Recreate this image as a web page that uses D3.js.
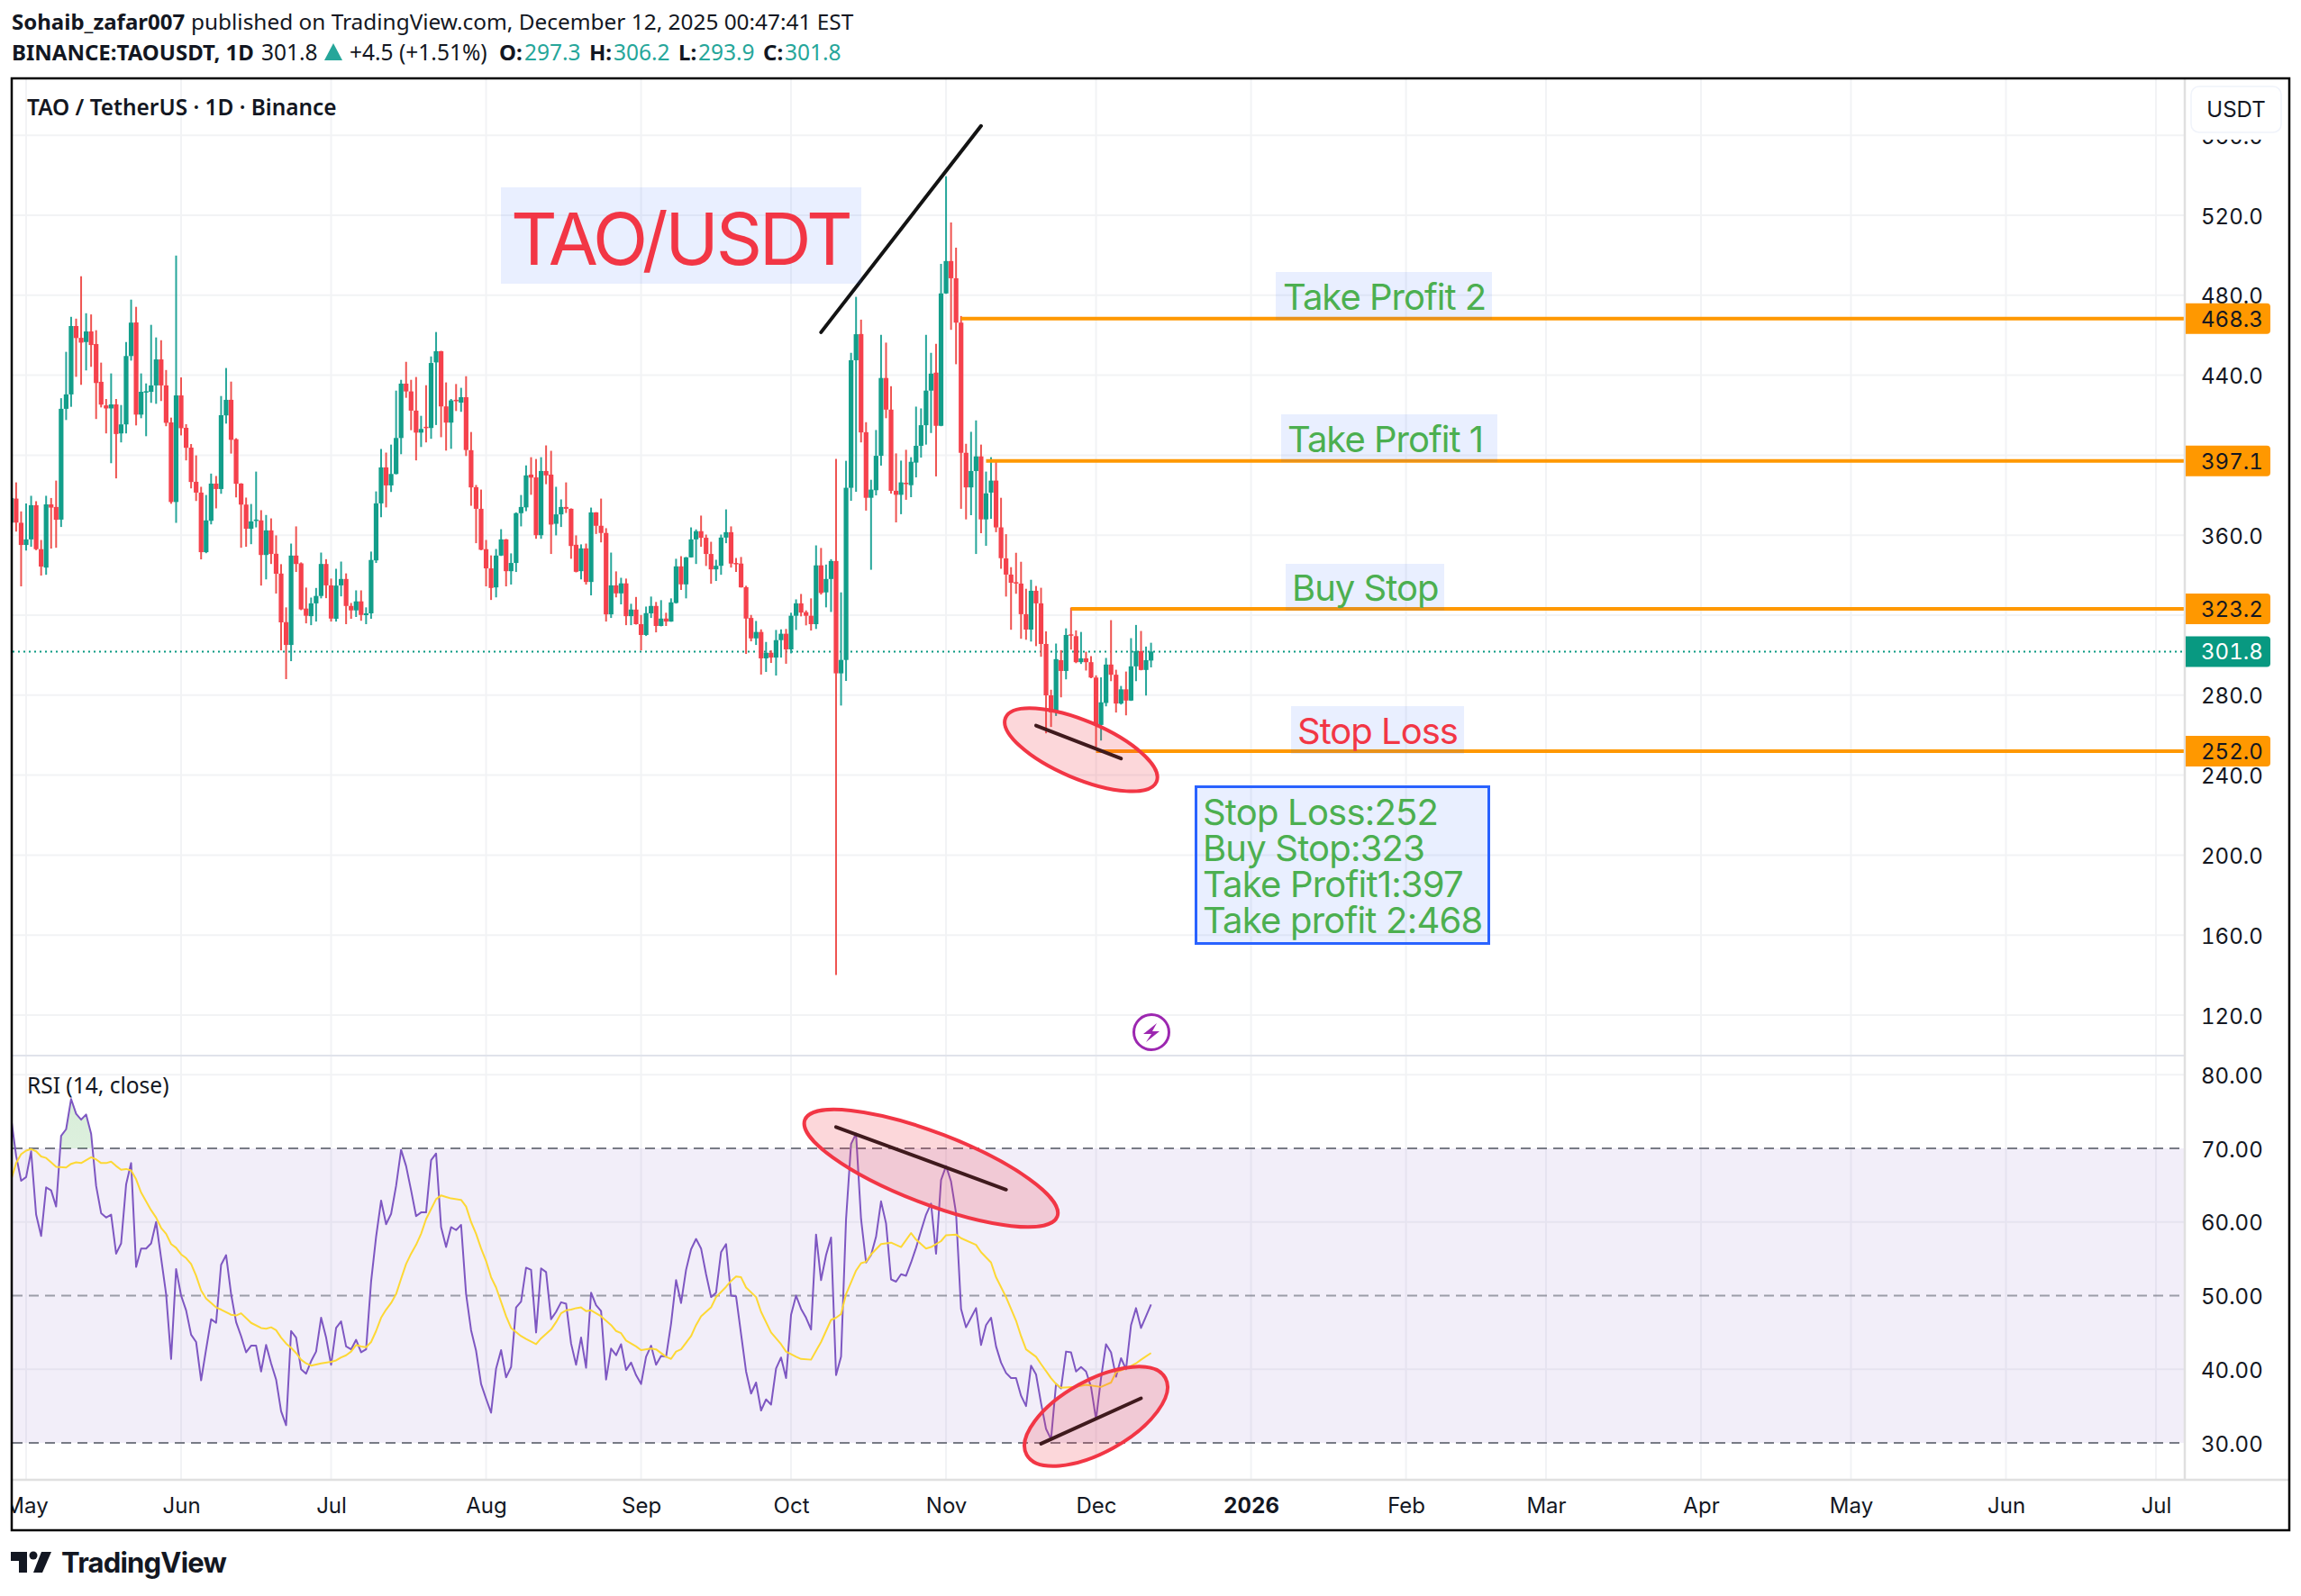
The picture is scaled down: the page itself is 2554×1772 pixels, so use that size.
<!DOCTYPE html>
<html>
<head>
<meta charset="utf-8">
<style>
  html, body { margin: 0; padding: 0; background: #fff; }
  text { font-family: Inter, sans-serif; }
  .head text, .head { font-family: "Noto Sans", sans-serif; font-size: 24.5px; fill: #131722; }
  .axis text { font-family: Inter, sans-serif; font-size: 24px; fill: #131722; font-variant-numeric: tabular-nums; }
  .axis .domain { display: none; }
  .tag text { font-variant-numeric: tabular-nums; }
</style>
<script src="https://cdn.jsdelivr.net/npm/d3@7"></script>
</head>
<body>
<svg id="chart" width="2554" height="1772"></svg>
<script>
// daily candles, first one is 2025-04-28
var startDay = '2025-04-28';

var opens = [
  366.3,378.3,366.2,
  355.1,357.9,375.0,353.0,343.8,375.4,374.1,367.8,423.2,430.4,464.6,458.7,456.6,461.9,455.6,436.7,424.9,423.4,425.4,410.9,415.4,449.6,466.4,420.3,431.5,431.7,434.9,447.9,434.9,416.4,376.6,
  429.9,413.7,403.8,386.7,381.3,351.5,367.2,385.8,383.1,419.9,427.7,408.0,385.8,375.3,363.2,367.2,367.4,350.1,362.4,350.7,340.8,316.5,305.1,349.8,345.9,323.3,319.5,325.9,329.6,345.6,
  334.9,318.2,334.9,338.1,324.6,322.4,326.9,320.0,320.9,347.4,375.9,393.9,384.9,390.6,408.6,435.8,431.9,422.3,411.3,414.2,413.6,446.4,452.0,424.4,416.3,427.7,426.3,429.0,402.5,384.0,373.2,
  353.0,343.4,333.9,349.8,357.9,342.0,346.1,371.0,373.9,390.3,388.9,360.0,392.1,390.3,365.7,370.4,374.1,373.2,355.2,342.0,353.4,336.6,371.4,364.7,361.1,320.4,334.9,330.9,335.9,319.5,322.8,
  315.5,310.1,320.9,324.6,314.6,318.3,316.8,326.1,344.4,335.4,348.9,357.9,362.0,358.7,350.6,342.9,344.7,358.8,361.5,346.1,345.8,334.0,318.6,308.4,311.6,298.4,301.2,298.8,307.5,310.7,
  302.9,319.7,325.9,321.5,319.7,315.5,344.9,331.4,338.1,347.1,290.9,297.6,383.7,447.5,460.6,411.5,378.7,382.5,399.7,438.6,422.8,382.2,380.2,386.2,385.0,396.3,404.7,415.0,432.3,441.3,414.7,
  480.9,497.1,488.5,466.3,401.2,383.9,392.1,399.4,367.9,381.3,387.3,363.9,348.4,340.3,336.5,335.8,320.5,312.8,332.2,325.9,305.6,279.9,271.4,297.5,292.1,310.4,309.5,296.5,298.4,296.5,
  288.8,265.1,276.1,295.3,290.2,275.8,282.9,277.3,294.4,302.0,292.6,297.3
];
var highs = [
  381.6,386.4,371.9,
  375.9,379.7,377.0,357.6,379.7,378.6,387.3,428.5,451.7,469.2,468.3,489.5,471.0,470.4,462.5,446.3,428.1,440.9,428.1,425.1,456.6,477.8,474.2,440.9,435.9,465.2,458.9,457.5,442.6,418.8,499.8,
  438.9,415.5,405.6,399.9,384.2,380.1,390.8,389.6,429.6,443.6,436.8,408.5,386.0,378.8,375.6,391.8,372.5,370.1,368.4,359.9,345.5,323.9,355.8,364.4,346.4,333.8,328.8,333.6,351.3,348.0,
  338.3,343.2,346.8,340.9,326.1,332.4,332.4,323.9,351.8,381.9,403.1,401.3,405.3,432.3,437.7,446.7,437.7,439.1,419.7,435.0,449.4,461.6,452.2,436.4,428.1,435.6,433.7,439.5,411.6,385.1,382.8,
  357.6,349.9,353.1,363.0,358.1,350.9,371.4,380.1,394.9,399.0,398.1,399.0,404.9,402.2,384.2,377.9,386.4,373.4,359.9,355.4,355.8,373.8,371.5,378.3,363.5,351.3,341.9,338.7,338.3,325.7,329.1,
  320.1,324.3,329.3,326.6,327.5,321.2,328.4,348.2,349.5,349.1,363.9,362.9,369.8,360.3,356.7,347.7,360.3,372.9,364.4,348.6,349.1,334.7,320.1,317.1,312.9,306.6,302.4,312.6,312.9,313.1,
  321.2,327.9,330.6,322.4,328.4,354.9,353.6,345.3,348.0,398.1,331.4,397.2,451.2,479.2,467.8,416.5,387.7,412.6,460.2,456.3,434.5,400.9,397.3,402.7,399.0,424.3,423.4,460.2,451.2,455.7,495.7,
  539.5,516.4,503.8,469.6,405.7,411.7,417.4,405.3,391.8,399.0,397.8,378.7,360.5,344.0,351.2,346.7,333.2,337.7,334.6,333.7,311.9,282.7,305.8,302.5,313.4,323.8,312.4,311.6,301.7,299.5,
  289.9,288.9,298.6,317.5,292.7,284.6,291.8,308.5,315.1,312.1,304.3,306.2
];
var lows = [
  360.6,361.8,334.4,
  352.3,354.2,352.5,339.8,340.2,353.3,353.7,364.1,417.6,424.2,439.2,435.2,442.4,444.2,418.1,423.9,410.9,396.0,388.4,406.4,410.9,447.3,414.9,418.5,409.5,426.2,425.7,427.1,414.5,375.7,366.2,
  409.9,397.4,383.4,377.1,347.9,351.0,365.4,373.4,380.7,415.8,400.8,378.9,353.7,354.2,355.5,363.9,334.8,337.9,345.6,330.8,302.4,288.0,297.0,341.6,322.5,315.9,315.0,316.8,328.4,328.5,
  316.8,316.8,329.4,315.5,318.2,319.1,317.2,315.5,318.2,346.1,369.0,373.9,381.6,390.4,400.5,428.7,412.5,397.4,404.1,406.4,408.2,415.1,409.0,402.3,403.2,422.1,421.7,399.6,374.7,356.0,352.5,
  334.4,327.6,328.9,349.6,334.4,335.3,341.6,364.4,372.0,380.2,358.2,358.2,385.5,350.6,359.9,364.1,371.1,348.2,341.4,337.9,335.3,329.9,360.6,356.4,316.8,318.6,328.9,325.4,315.0,315.0,315.3,
  302.4,309.6,318.6,311.4,314.4,314.6,316.7,325.8,332.6,328.4,348.8,345.6,354.2,344.6,335.7,337.1,340.2,356.0,343.8,341.6,333.8,300.6,306.9,305.1,290.3,291.6,296.1,289.8,298.8,295.7,
  300.9,312.6,319.4,314.9,312.3,313.1,330.3,323.9,321.6,140.0,274.8,287.1,377.2,381.7,406.4,372.3,342.7,379.9,394.8,418.5,380.8,366.4,370.5,377.7,379.0,388.9,398.8,405.3,411.1,389.4,414.5,
  480.7,462.7,445.5,373.2,367.9,370.0,350.6,361.0,354.7,368.2,361.5,343.2,329.3,312.7,330.7,308.2,307.7,306.8,304.5,299.2,260.9,264.1,269.6,278.9,287.9,302.8,296.0,295.6,292.3,288.5,
  254.0,257.3,274.4,287.0,271.3,275.3,269.9,277.1,287.0,292.4,279.8,293.9
];
var closes = [
  378.6,366.3,355.1,
  357.9,375.0,353.0,344.3,375.4,373.8,367.7,423.2,430.4,464.6,458.6,456.3,461.9,455.1,436.1,425.3,423.4,425.4,410.6,415.4,449.6,466.3,420.3,431.7,432.0,434.9,447.9,434.9,416.2,376.6,429.9,
  413.5,403.7,386.6,381.3,351.5,367.4,385.8,383.1,420.0,427.7,407.7,385.7,375.3,363.2,366.9,367.8,350.1,362.4,350.6,340.7,316.4,305.1,349.8,345.6,322.9,319.7,325.9,329.6,345.6,334.9,
  318.3,334.8,338.1,324.6,322.4,326.9,320.1,320.9,347.6,375.9,393.9,384.9,390.6,408.6,435.8,431.9,422.3,411.3,413.1,413.6,446.1,452.0,424.4,416.3,427.4,427.0,429.0,402.6,383.9,373.2,352.7,
  343.4,333.6,349.8,357.9,342.0,346.1,371.0,374.1,389.9,388.8,360.0,392.1,389.9,365.3,370.4,374.1,373.2,354.6,341.7,353.4,336.6,371.4,364.7,361.1,320.4,334.9,330.9,335.9,319.5,322.8,315.5,
  310.1,321.0,324.6,314.6,318.3,316.8,326.4,344.4,335.4,348.9,357.9,362.0,358.7,350.6,342.9,344.7,358.8,361.5,345.8,345.6,333.9,318.3,308.4,311.6,298.4,301.2,298.8,307.5,310.7,302.9,
  319.7,325.9,321.3,319.7,315.5,344.9,331.1,338.1,347.1,290.9,297.6,383.7,447.5,460.5,411.4,378.7,382.8,399.7,438.6,422.8,382.2,380.2,386.4,385.9,396.7,404.7,415.0,432.3,440.8,414.7,480.9,
  497.1,488.5,466.3,401.2,383.9,392.1,399.4,367.9,380.9,387.3,363.9,348.5,340.3,336.2,336.2,320.5,312.8,332.2,325.9,305.6,279.9,271.4,298.0,292.1,310.1,310.1,296.5,298.4,296.5,288.8,
  264.8,276.4,295.3,290.2,275.8,282.9,277.3,294.4,302.0,292.6,297.5,301.8
];

// RSI (14), one value per candle
var rsiValues = [
  74.1,69.0,65.6,66.1,69.6,61.0,58.1,64.7,64.3,62.1,
  71.7,72.6,76.7,74.7,73.9,74.6,72.0,64.9,61.2,60.6,
  61.0,55.7,57.1,65.1,68.0,53.9,56.4,56.4,57.1,60.0,
  55.1,50.2,41.4,53.6,50.0,48.0,44.7,43.7,38.5,42.7,
  46.8,46.3,54.2,55.5,50.2,46.4,44.5,42.3,43.2,43.2,
  39.7,43.3,40.8,38.6,34.3,32.4,45.2,44.3,40.0,39.4,
  41.1,42.4,47.0,44.3,40.6,45.6,46.5,43.1,42.7,44.0,
  42.3,42.7,51.9,58.0,62.9,59.7,61.1,64.9,69.8,67.6,
  64.3,60.8,61.3,61.3,68.4,69.3,59.3,56.6,59.3,58.9,
  59.6,50.2,45.3,42.5,38.0,36.0,34.1,40.1,42.6,38.9,
  40.3,48.4,49.2,53.8,53.5,45.0,53.7,53.2,46.8,47.8,
  49.1,48.9,43.5,40.6,44.3,40.2,50.4,48.7,47.9,38.6,
  42.8,41.9,43.4,39.9,40.9,39.2,38.0,41.7,43.2,40.6,
  41.8,41.7,46.2,52.1,49.0,53.5,56.3,57.7,56.4,52.9,
  49.8,50.4,55.9,57.0,50.0,49.9,44.8,39.7,36.7,38.2,
  34.4,35.9,35.2,40.1,41.6,38.8,47.4,50.0,48.2,47.0,
  45.4,58.3,52.1,55.5,57.9,39.2,41.7,60.4,70.6,72.0,
  60.4,54.5,55.5,58.0,62.8,59.8,52.2,51.9,52.9,52.7,
  54.5,56.5,58.8,61.0,62.5,55.7,65.7,67.6,65.5,61.2,
  48.2,45.7,47.0,48.3,43.3,46.0,47.0,43.1,40.9,39.5,
  38.8,38.8,36.4,35.0,40.5,39.3,35.4,31.9,30.5,38.0,
  37.4,42.4,42.3,39.7,40.3,39.7,37.6,33.2,38.8,43.4,
  42.3,39.0,41.5,40.0,46.0,48.3,45.6,47.2,48.8
];

// yellow RSI average, read at these candle numbers
var maCandles = [0,1,2,3,4,5,6,7,8,9,11,12,13,14,15,16,17,18,19,20,21,22,23,24,25,26,28,29,30,31,32,33,34,35,36,37,38,39,41,42,44,45,46,48,50,51,52,53,54,55,56,57,58,59,60,62,64,65,66,67,68,69,70,71,72,73,74,75,76,77,78,79,80,81,82,83,85,86,87,88,90,91,92,93,94,95,96,97,99,100,102,103,105,106,108,109,110,111,112,113,114,115,116,118,120,121,122,123,125,126,128,129,131,132,133,134,136,137,138,140,141,143,144,145,146,147,149,150,152,154,155,157,158,160,161,162,164,165,166,167,169,170,171,172,174,176,178,180,181,183,184,186,187,189,190,193,194,196,197,199,201,202,203,205,206,208,209,210,213,215,218,220,221,223,225,226,228];
var maValues = [65.7,68.0,69.2,69.7,69.9,69.6,68.9,68.7,68.1,67.5,67.4,67.9,68.1,68.0,68.4,68.8,68.5,68.0,68.0,68.2,67.6,67.1,67.2,67.0,65.8,64.0,61.6,60.6,59.2,58.4,57.0,56.5,55.6,55.1,54.3,52.7,50.7,49.6,48.4,48.1,47.4,47.3,47.6,46.3,45.6,45.5,45.7,45.3,44.3,43.5,42.9,42.2,41.3,40.8,40.5,40.8,41.0,41.2,41.6,41.9,42.4,43.3,43.1,43.0,43.7,45.2,47.0,48.1,49.0,50.2,52.3,54.3,55.7,56.9,58.4,60.4,63.1,63.6,63.4,63.2,63.0,62.1,60.0,58.4,56.4,54.7,52.5,51.1,47.2,45.6,44.5,44.1,43.4,44.2,45.4,46.4,47.6,48.0,48.1,48.3,48.4,47.9,48.0,47.2,46.0,45.2,44.9,43.9,43.1,42.6,42.8,42.7,41.7,41.4,42.4,42.7,44.5,46.0,47.2,48.4,49.8,51.2,52.0,52.6,52.5,51.1,49.8,47.8,45.0,43.4,42.4,41.7,41.4,41.3,42.5,43.7,46.7,47.0,47.5,50.2,53.4,54.4,54.6,55.6,57.0,57.2,56.6,58.5,57.6,56.4,56.6,57.4,58.2,58.3,57.8,56.9,55.9,54.5,52.5,49.8,46.6,44.5,42.7,41.7,40.7,38.8,38.0,37.5,37.6,37.9,37.6,38.2,39.6,40.1,40.8,41.3,42.2];

var priceTicks = [560,520,480,440,400,360,320,280,240,200,160,120];
// 400 and 320 sit behind the price tags, so they have no label
var priceLabels = [560,520,480,440,360,280,240,200,160,120];
var rsiTicks = [80,70,60,50,40,30];
var rsiGrid = [80,60,40];
var rsiLevels = [70,50,30];
var monthDays = ['2025-05-01','2025-06-01','2025-07-01','2025-08-01','2025-09-01','2025-10-01','2025-11-01','2025-12-01','2026-01-01','2026-02-01','2026-03-01','2026-04-01','2026-05-01','2026-06-01','2026-07-01'];
var monthLabels = ['May','Jun','Jul','Aug','Sep','Oct','Nov','Dec','2026','Feb','Mar','Apr','May','Jun','Jul'];

var lastPrice = 301.8;
var levelPrices = [468.3,397.1,323.2,252.0];
var levelStarts = ['2025-11-04','2025-11-09','2025-11-26','2025-12-01'];

var left = 14, right = 2425, frameRight = 2541, frameTop = 87, frameBottom = 1699;
var paneLine = 1172, timeLine = 1643;

var parseDay = d3.utcParse('%Y-%m-%d');
var x = d3.scaleUtc().domain([parseDay('2025-05-01'), parseDay('2026-07-01')]).range([29, 2393]);
var yPrice = d3.scaleLinear().domain([120, 520]).range([1127, 239]);
var yRsi = d3.scaleLinear().domain([30, 70]).range([1602, 1275]);

function candleDay(i) {
  return d3.utcDay.offset(parseDay(startDay), i);
}

var svg = d3.select('#chart');
var defs = svg.append('defs');

defs.append('clipPath').attr('id', 'plotClip').append('rect')
  .attr('x', left).attr('y', frameTop).attr('width', right - left).attr('height', timeLine - frameTop);
defs.append('clipPath').attr('id', 'frameClip').append('rect')
  .attr('x', left).attr('y', frameTop).attr('width', frameRight - left).attr('height', frameBottom - frameTop);
defs.append('clipPath').attr('id', 'overClip').append('rect')
  .attr('x', left).attr('y', timeLine - 560).attr('width', right - left).attr('height', yRsi(70) - (timeLine - 560));

var overGrad = defs.append('linearGradient').attr('id', 'overFill').attr('x1', 0).attr('y1', 0).attr('x2', 0).attr('y2', 1);
overGrad.append('stop').attr('offset', '0%').attr('stop-color', '#4caf50').attr('stop-opacity', 0.22);
overGrad.append('stop').attr('offset', '100%').attr('stop-color', '#4caf50').attr('stop-opacity', 0.02);

svg.append('rect').attr('width', 2554).attr('height', 1772).attr('fill', '#fff');

// grid
var grid = svg.append('g').attr('stroke', '#f2f3f5').attr('stroke-width', 2).attr('clip-path', 'url(#plotClip)');
grid.selectAll('.v').data(monthDays).enter().append('line')
  .attr('x1', function(d) { return x(parseDay(d)); })
  .attr('x2', function(d) { return x(parseDay(d)); })
  .attr('y1', frameTop).attr('y2', timeLine);
grid.selectAll('.h').data(priceTicks).enter().append('line')
  .attr('x1', left).attr('x2', right)
  .attr('y1', function(d) { return yPrice(d); })
  .attr('y2', function(d) { return yPrice(d); });
grid.selectAll('.r').data(rsiGrid).enter().append('line')
  .attr('x1', left).attr('x2', right)
  .attr('y1', function(d) { return yRsi(d); })
  .attr('y2', function(d) { return yRsi(d); });

// rsi pane background and levels
svg.append('rect').attr('x', left).attr('width', right - left)
  .attr('y', yRsi(70)).attr('height', yRsi(30) - yRsi(70))
  .attr('fill', '#7e57c2').attr('opacity', 0.1);
svg.selectAll('.level').data(rsiLevels).enter().append('line')
  .attr('x1', left).attr('x2', right)
  .attr('y1', function(d) { return yRsi(d); })
  .attr('y2', function(d) { return yRsi(d); })
  .attr('stroke', '#787b86')
  .attr('stroke-opacity', function(d) { return d === 50 ? 0.7 : 1; })
  .attr('stroke-width', 2)
  .attr('stroke-dasharray', '11,7');

// last price dots
svg.append('line').attr('x1', left).attr('x2', right)
  .attr('y1', yPrice(lastPrice)).attr('y2', yPrice(lastPrice))
  .attr('stroke', '#089981').attr('stroke-width', 2).attr('stroke-dasharray', '2,4');

// candles
var candleData = opens.map(function(o, i) {
  return {day: candleDay(i), o: o, h: highs[i], l: lows[i], c: closes[i]};
});
var candles = svg.append('g').attr('clip-path', 'url(#plotClip)')
  .selectAll('g').data(candleData).enter().append('g');
candles.append('line')
  .attr('x1', function(d) { return x(d.day); })
  .attr('x2', function(d) { return x(d.day); })
  .attr('y1', function(d) { return yPrice(d.h); })
  .attr('y2', function(d) { return yPrice(d.l); })
  .attr('stroke-width', 2)
  .attr('stroke', function(d) { return d.c >= d.o ? '#26a69a' : '#ef5350'; });
candles.append('rect')
  .attr('x', function(d) { return x(d.day) - 2.6; })
  .attr('width', 5.2)
  .attr('y', function(d) { return yPrice(Math.max(d.o, d.c)); })
  .attr('height', function(d) { return Math.max(1.5, Math.abs(yPrice(d.o) - yPrice(d.c))); })
  .attr('fill', function(d) { return d.c >= d.o ? '#129e8a' : '#f5414c'; });

// rsi lines
var rsiLine = d3.line()
  .x(function(d, i) { return x(candleDay(i)); })
  .y(function(d) { return yRsi(d); });
var overArea = d3.area()
  .x(function(d, i) { return x(candleDay(i)); })
  .y0(yRsi(70))
  .y1(function(d) { return yRsi(d); });
svg.append('g').attr('clip-path', 'url(#overClip)').append('path')
  .datum(rsiValues).attr('d', overArea).attr('fill', 'url(#overFill)');
var rsiG = svg.append('g').attr('clip-path', 'url(#plotClip)');
rsiG.append('path').datum(rsiValues).attr('d', rsiLine)
  .attr('fill', 'none').attr('stroke', '#7e57c2').attr('stroke-width', 2).attr('stroke-linejoin', 'round');
var maLine = d3.line()
  .x(function(d, i) { return x(candleDay(maCandles[i])); })
  .y(function(d) { return yRsi(d); });
rsiG.append('path').datum(maValues).attr('d', maLine)
  .attr('fill', 'none').attr('stroke', '#fdd835').attr('stroke-width', 2).attr('stroke-linejoin', 'round');

// orange levels
svg.selectAll('.lvl').data(levelPrices).enter().append('line')
  .attr('x1', function(d, i) { return x(parseDay(levelStarts[i])); })
  .attr('x2', right)
  .attr('y1', function(d) { return yPrice(d); })
  .attr('y2', function(d) { return yPrice(d); })
  .attr('stroke', '#ff9800').attr('stroke-width', 4);

// black trend lines and ellipses
function dayX(d) { return x(parseDay(d)); }

svg.append('line')
  .attr('x1', dayX('2025-10-07')).attr('y1', yPrice(461.5))
  .attr('x2', dayX('2025-11-08')).attr('y2', yPrice(564.7))
  .attr('stroke', '#131313').attr('stroke-width', 4).attr('stroke-linecap', 'round');

var trendSegs = [
  {d1: '2025-11-19', v1: 264.8, d2: '2025-12-06', v2: 248.3, y: yPrice},
  {d1: '2025-10-10', v1: 72.9, d2: '2025-11-13', v2: 64.4, y: yRsi},
  {d1: '2025-11-20', v1: 29.9, d2: '2025-12-10', v2: 36.05, y: yRsi}
];
svg.selectAll('.seg').data(trendSegs).enter().append('line')
  .attr('x1', function(d) { return dayX(d.d1); })
  .attr('y1', function(d) { return d.y(d.v1); })
  .attr('x2', function(d) { return dayX(d.d2); })
  .attr('y2', function(d) { return d.y(d.v2); })
  .attr('stroke', '#131313').attr('stroke-width', 4).attr('stroke-linecap', 'round');

var ovals = [
  {day: '2025-11-28', v: 252.7, y: yPrice, a: 91, b: 32, rot: 23},
  {day: '2025-10-29', v: 67.3, y: yRsi, a: 150, b: 39.5, rot: 21},
  {day: '2025-12-01', v: 33.6, y: yRsi, a: 88, b: 40, rot: -29}
];
svg.selectAll('.oval').data(ovals).enter().append('ellipse')
  .attr('rx', function(d) { return d.a; })
  .attr('ry', function(d) { return d.b; })
  .attr('transform', function(d) { return 'translate(' + dayX(d.day) + ',' + d.y(d.v) + ') rotate(' + d.rot + ')'; })
  .attr('fill', '#f23645').attr('fill-opacity', 0.2)
  .attr('stroke', '#f23645').attr('stroke-width', 4);

// text notes
var noteFill = 'rgba(41,98,255,0.1)';
var notes = [
  {text: 'TAO/USDT', bx: 556, by: 208, bw: 400, bh: 107, tx: 567, ty: 294, size: 80, color: '#f23645', sp: -3.2},
  {text: 'Take Profit 2', bx: 1416, by: 302, bw: 240, bh: 53, tx: 1424, ty: 344, size: 40, color: '#4caf50', sp: -1},
  {text: 'Take Profit 1', bx: 1422, by: 460, bw: 240, bh: 53, tx: 1429, ty: 502, size: 40, color: '#4caf50', sp: -1},
  {text: 'Buy Stop', bx: 1427, by: 626, bw: 176, bh: 52, tx: 1434, ty: 667, size: 40, color: '#4caf50', sp: -1},
  {text: 'Stop Loss', bx: 1433, by: 784, bw: 192, bh: 53, tx: 1440, ty: 826, size: 40, color: '#f23645', sp: -1}
];
svg.selectAll('.noteBox').data(notes).enter().append('rect')
  .attr('x', function(d) { return d.bx; }).attr('y', function(d) { return d.by; })
  .attr('width', function(d) { return d.bw; }).attr('height', function(d) { return d.bh; })
  .attr('fill', noteFill);
svg.selectAll('.noteText').data(notes).enter().append('text')
  .attr('x', function(d) { return d.tx; }).attr('y', function(d) { return d.ty; })
  .attr('font-size', function(d) { return d.size; })
  .attr('letter-spacing', function(d) { return d.sp; })
  .attr('fill', function(d) { return d.color; })
  .text(function(d) { return d.text; });

var planLines = ['Stop Loss:252', 'Buy Stop:323', 'Take Profit1:397', 'Take profit 2:468'];
svg.append('rect').attr('x', 1327.5).attr('y', 873.5).attr('width', 325).attr('height', 174)
  .attr('fill', noteFill).attr('stroke', '#2962ff').attr('stroke-width', 3);
svg.selectAll('.plan').data(planLines).enter().append('text')
  .attr('x', 1335)
  .attr('y', function(d, i) { return 916 + i * 40; })
  .attr('font-size', 40).attr('fill', '#4caf50').attr('letter-spacing', -0.8)
  .text(function(d) { return d; });

// lightning mark
svg.append('circle').attr('cx', 1278).attr('cy', 1146).attr('r', 19.5)
  .attr('fill', '#fff').attr('stroke', '#9c27b0').attr('stroke-width', 3);
svg.append('path').attr('d', 'M1284,1136 L1269,1148 L1278,1148 L1272,1157 L1287,1145 L1279,1145 Z')
  .attr('fill', '#9c27b0');

// pane separators
svg.append('line').attr('x1', left).attr('x2', right).attr('y1', paneLine).attr('y2', paneLine)
  .attr('stroke', '#e0e3eb').attr('stroke-width', 2);
svg.append('line').attr('x1', left).attr('x2', frameRight).attr('y1', timeLine).attr('y2', timeLine)
  .attr('stroke', '#e0e0e0').attr('stroke-width', 2.5);
svg.append('line').attr('x1', right).attr('x2', right).attr('y1', frameTop).attr('y2', timeLine)
  .attr('stroke', '#e0e0e0').attr('stroke-width', 2.5);

// axes
var priceAxis = d3.axisRight(yPrice).tickValues(priceLabels).tickFormat(d3.format('.1f')).tickSize(0).tickPadding(18);
svg.append('g').attr('class', 'axis').attr('transform', 'translate(' + right + ',1.5)').call(priceAxis);
var rsiAxis = d3.axisRight(yRsi).tickValues(rsiTicks).tickFormat(d3.format('.2f')).tickSize(0).tickPadding(18);
svg.append('g').attr('class', 'axis').attr('transform', 'translate(' + right + ',1.5)').call(rsiAxis);
var timeAxis = d3.axisBottom(x).tickValues(monthDays.map(parseDay)).tickSize(0).tickPadding(20)
  .tickFormat(function(d, i) { return monthLabels[i]; });
var timeG = svg.append('g').attr('clip-path', 'url(#frameClip)').append('g')
  .attr('class', 'axis').attr('transform', 'translate(0,' + timeLine + ')').call(timeAxis);
timeG.selectAll('text').attr('font-weight', function(d, i) { return monthLabels[i] === '2026' ? 700 : 400; })
  .style('font-weight', function(d, i) { return monthLabels[i] === '2026' ? 700 : 400; });

// USDT button covers the top tick
svg.append('rect').attr('x', right + 2).attr('y', frameTop + 2).attr('width', frameRight - right - 4).attr('height', 66).attr('fill', '#fff');
svg.append('rect').attr('x', 2432).attr('y', 96).attr('width', 100).attr('height', 51).attr('rx', 9)
  .attr('fill', '#fff').attr('stroke', '#f0f3fa').attr('stroke-width', 1.5);
svg.append('text').attr('x', 2482).attr('y', 130).attr('text-anchor', 'middle')
  .attr('font-size', 24).attr('fill', '#131722').text('USDT');

// price tags
var tagData = levelPrices.map(function(p) { return {v: p, fill: '#ff9800', color: '#131722'}; });
tagData.push({v: lastPrice, fill: '#089981', color: '#fff'});
var tags = svg.selectAll('.tag').data(tagData).enter().append('g').attr('class', 'tag');
tags.append('path')
  .attr('d', function(d) {
    var t = yPrice(d.v) - 17;
    return 'M' + (right + 1) + ',' + t + ' H2516 a4,4 0 0 1 4,4 V' + (t + 30) + ' a4,4 0 0 1 -4,4 H' + (right + 1) + ' Z';
  })
  .attr('fill', function(d) { return d.fill; });
tags.append('text').attr('x', right + 18)
  .attr('y', function(d) { return yPrice(d.v) + 9; })
  .attr('font-size', 24)
  .attr('fill', function(d) { return d.color; })
  .text(function(d) { return d.v.toFixed(1); });

// legends inside the panes
svg.append('text').attr('x', 30).attr('y', 128).attr('font-size', 24.4)
  .attr('font-weight', 600).style('font-family', '"Noto Sans", sans-serif')
  .attr('fill', '#131722').text('TAO / TetherUS \u00b7 1D \u00b7 Binance');
svg.append('text').attr('x', 30).attr('y', 1214).attr('font-size', 24.5)
  .style('font-family', '"Noto Sans", sans-serif')
  .attr('fill', '#131722').text('RSI (14, close)');

// frame
svg.append('rect').attr('x', 13).attr('y', frameTop).attr('width', frameRight - 13).attr('height', frameBottom - frameTop)
  .attr('fill', 'none').attr('stroke', '#000').attr('stroke-width', 2.5);

// header lines
var headOne = [
  {t: 'Sohaib_zafar007', x: 13, w: 700, c: '#131722', s: 24},
  {t: 'published on TradingView.com, December 12, 2025 00:47:41 EST', x: 212, w: 400, c: '#131722', s: 24.4}
];
var headTwo = [
  {t: 'BINANCE:TAOUSDT, 1D', x: 13, w: 700, c: '#131722', s: 24},
  {t: '301.8', x: 290, w: 400, c: '#131722', s: 24.5},
  {t: '+4.5 (+1.51%)', x: 388, w: 400, c: '#131722', s: 24.5},
  {t: 'O:', x: 554, w: 700, c: '#131722', s: 24},
  {t: '297.3', x: 582, w: 400, c: '#26a69a', s: 24.5},
  {t: 'H:', x: 654, w: 700, c: '#131722', s: 24},
  {t: '306.2', x: 681, w: 400, c: '#26a69a', s: 24.5},
  {t: 'L:', x: 753, w: 700, c: '#131722', s: 24},
  {t: '293.9', x: 775, w: 400, c: '#26a69a', s: 24.5},
  {t: 'C:', x: 847, w: 700, c: '#131722', s: 24},
  {t: '301.8', x: 871, w: 400, c: '#26a69a', s: 24.5}
];
var head = svg.append('g').attr('class', 'head');
head.selectAll('.one').data(headOne).enter().append('text')
  .attr('x', function(d) { return d.x; }).attr('y', 33)
  .style('font-weight', function(d) { return d.w; })
  .style('font-size', function(d) { return d.s + 'px'; })
  .text(function(d) { return d.t; });
head.selectAll('.two').data(headTwo).enter().append('text')
  .attr('x', function(d) { return d.x; }).attr('y', 67)
  .style('font-weight', function(d) { return d.w; })
  .style('font-size', function(d) { return d.s + 'px'; })
  .style('fill', function(d) { return d.c; })
  .text(function(d) { return d.t; });
svg.append('path').attr('d', 'M360,67 L370,48 L380,67 Z').attr('fill', '#26a69a');

// footer logo
svg.append('path').attr('d', 'M12,1723 H30 V1746 H21 V1733 H12 Z').attr('fill', '#131722');
svg.append('circle').attr('cx', 37).attr('cy', 1727).attr('r', 4.5).attr('fill', '#131722');
svg.append('path').attr('d', 'M46,1723 H57 L47,1746 H37 Z').attr('fill', '#131722');
svg.append('text').attr('x', 68).attr('y', 1746).attr('font-size', 31).attr('font-weight', 700)
  .attr('letter-spacing', -0.8).attr('fill', '#131722').text('TradingView');
</script>
</body>
</html>
